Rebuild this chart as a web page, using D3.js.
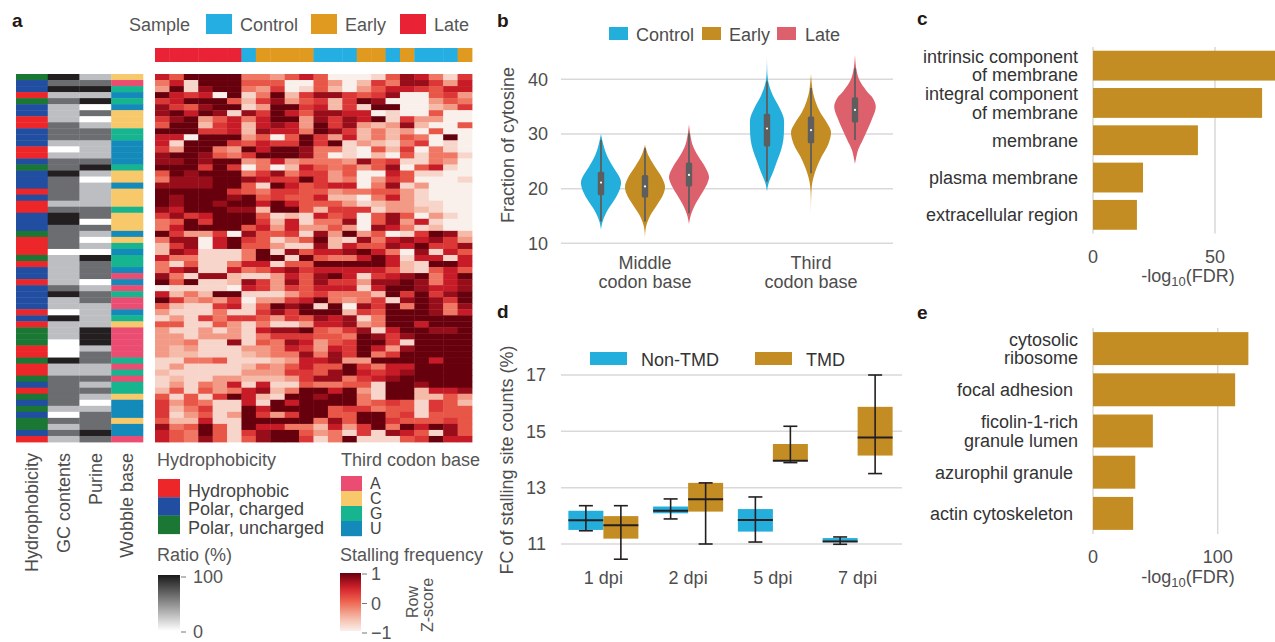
<!DOCTYPE html>
<html>
<head>
<meta charset="utf-8">
<script src="https://cdn.jsdelivr.net/npm/d3@7"></script>
<style>
  body { margin: 0; background: #fff; }
  svg text { font-family: "Liberation Sans", Arial, Helvetica, sans-serif; }
</style>
</head>
<body>
<div id="chart"></div>
<script>
// ---------------- data ----------------
// panel a: sample group of each heatmap column
var sampleGroups = ['Late','Late','Late','Late','Late','Late','Control','Early','Early','Early','Early',
  'Control','Control','Control','Early','Early','Control','Early','Control','Control','Control','Early'];

// row annotations (61 codons): h = hydrophobic, c = polar charged, u = polar uncharged
var hydroCodes   = "ucchucchhc" + "cchhcuccch" + "chhcccuhhh" + "uhcchcccch" + "chuuuhhuhh" + "uchucucuuc" + "h";
// GC contents / purine ratio: 0 = 0%, 1 = 33%, 2 = 67%, 3 = 100%
var gcLevels     = "3231211122" + "2101223222" + "2123322220" + "1111123110" + "3111000311" + "2222210212" + "1";
var purineLevels = "1231302012" + "2111231011" + "1122021010" + "3222012211" + "1133312211" + "2121012223" + "2";
var wobbleBases  = "CAGUGUCCCG" + "GUUUUGCCUC" + "CCGCCCUCGU" + "GGUAUAGAAU" + "GCAAAAAGAG" + "AGGCUUUCUU" + "A";

// stalling frequency, row Z-score, read as levels 0 (-1) .. 9 (+1)
var stallingRows = [
  "7599994435750001587416","4719995550053026488637","3918994360152035776577","9767091492688656800563",
  "6799952683562698000354","8658991399672619900236","8979818697588770100500","6893574799386879163300",
  "5992672787396832382005","9996672877498624230500","7709993505963724254090","7199965766969132146010",
  "6399439799844105260410","8998546999840102051441","8898993473444385611430","9996960402754535805710",
  "5989994684663500751100","4888998766963403650001","8888995197567704813000","9999965466553445531000",
  "9899989565572204731000","9899899797555312331100","8799988299526661332100","6867999512175605850310",
  "4596999627144805837100","4799995737335308741200","9633608556183935016982","4880796513592184787863",
  "2680795531182755879668","2871114918577897408175","7441114991954479717717","4151147715599999721997",
  "4781174578677777521575","8418821137589716789479","9591128638586638898478","0111107636577717998778",
  "7242991113564442969689","9634360336794346189869","5211671598919086949848","3111411686999265999847",
  "1316466536587814999999","5511531411377834997999","3113131788954681799889","3313331466655498689999",
  "3341181548735699619999","3231113347637697389999","3221112344848694699999","1144511123778339999799",
  "1311112435755964779999","2111113336658976789999","1211332223688467899999","1314371711544551998999",
  "2515347824997931992778","5151697219989941992253","6354117197999945651652","6246119799995664551655",
  "6135139636995599561555","5227119999948599655565","8459519774427369497985","7549516899534161875185",
  "7548515899614911156977"
];

// panel b: violin profiles [value, relative half width] and box stats [low, q1, median, q3, high]
var codonPositions = ['Middle', 'Third'];
var sampleNames = ['Control', 'Early', 'Late'];
var violinProfiles = {
  'Middle-Control': [[12.5,0],[14,0.08],[16,0.32],[18,0.68],[20,0.95],[21.2,1],[22,0.94],[24,0.6],[26,0.3],[28,0.12],[30,0]],
  'Middle-Early':   [[11,0],[13,0.05],[15,0.25],[17,0.6],[19,0.92],[20.4,1],[22,0.85],[24,0.5],[26,0.18],[28,0]],
  'Middle-Late':    [[13.5,0],[15,0.08],[17,0.3],[19,0.62],[21,0.92],[22.2,1],[24,0.8],[26,0.45],[28,0.18],[30,0.06],[31.8,0]],
  'Third-Control':  [[19.5,0],[21,0.08],[23,0.3],[25,0.5],[27,0.7],[29,0.82],[31,0.85],[33,0.83],[35,0.6],[37,0.3],[39,0.1],[40.5,0.03],[44,0]],
  'Third-Early':    [[14.5,0],[20,0.03],[22,0.12],[24,0.3],[26,0.55],[28,0.85],[30.4,1],[32,0.8],[34,0.45],[36,0.22],[38,0.08],[41,0]],
  'Third-Late':     [[24.5,0],[27,0.15],[29,0.4],[31,0.65],[33,0.88],[35,1.04],[36.5,0.9],[38,0.55],[40,0.2],[42,0.06],[44.5,0]]
};
var violinBoxes = {
  'Middle-Control': [14, 18.8, 21.1, 23.1, 28.9],
  'Middle-Early':   [14, 18.4, 20.4, 22.5, 27.4],
  'Middle-Late':    [15.5, 20.4, 22.5, 24.8, 30.1],
  'Third-Control':  [21.3, 27.7, 31.0, 33.7, 39.6],
  'Third-Early':    [22.8, 28.3, 30.7, 33.2, 38.4],
  'Third-Late':     [28.9, 32.1, 34.4, 36.7, 42.0]
};

// panel c
var goTermsC = [['intrinsic component', 'of membrane'], ['integral component', 'of membrane'], ['membrane'], ['plasma membrane'], ['extracellular region']];
var fdrC = [76, 69.3, 43, 20.5, 18];

// panel d: [low, q1, median, q3, high]
var dpiLabels = ['1 dpi', '2 dpi', '5 dpi', '7 dpi'];
var nonTmdStats = [[11.47, 11.50, 11.84, 12.18, 12.36], [11.89, 12.09, 12.18, 12.33, 12.60], [11.07, 11.44, 11.85, 12.24, 12.67], [10.99, 11.07, 11.09, 11.21, 11.25]];
var tmdStats    = [[10.46, 11.19, 11.67, 11.99, 12.36], [11.00, 12.15, 12.59, 13.17, 13.17], [13.89, 13.96, 13.96, 14.55, 15.18], [13.50, 14.14, 14.78, 15.87, 17.00]];

// panel e
var goTermsE = [['cytosolic', 'ribosome'], ['focal adhesion '], ['ficolin-1-rich', 'granule lumen'], ['azurophil granule '], ['actin cytoskeleton ']];
var fdrE = [124.6, 114, 48, 33.9, 32.2];

// ---------------- drawing ----------------
var W = 1275, H = 642, FS = 18;
var gridColor = '#d9d9d9', tickText = '#4d4d4d', labelText = '#333';
var svg = d3.select('#chart').append('svg').attr('width', W).attr('height', H);

var sampleColor = {Control: '#25aee2', Early: '#e19a20', Late: '#e92236'};
var violinColor = {Control: '#23aedc', Early: '#c38d24', Late: '#dd616d'};
var hydroColor = {h: '#ec2629', c: '#214ea1', u: '#1a7734'};
var ratioColor = ['#ffffff', '#bdbec2', '#6c6d70', '#231f20'];
var wobbleColor = {A: '#eb4d72', C: '#f8c96a', G: '#17b58f', U: '#138ab9'};
var zColor = d3.scaleLinear().domain([-1, -0.5, 0, 0.5, 1])
  .range(['#faf0eb', '#f4b4a0', '#ee6651', '#d31f2a', '#67000d']).clamp(true);

function panelLabel(t, x, y) {
  svg.append('text').attr('x', x).attr('y', y)
    .attr('font-size', 19).attr('font-weight', 'bold').attr('fill', '#231815').text(t);
}
function txt(g, x, y, s, size, fill, anchor) {
  return g.append('text').attr('x', x).attr('y', y).attr('font-size', size || FS)
    .attr('fill', fill || tickText).attr('text-anchor', anchor || 'start').text(s);
}

// ===== panel a =====
panelLabel('a', 12, 27);
var gA = svg.append('g').attr('id', 'panelA');

txt(gA, 129, 31, 'Sample', FS, '#555');
[['Control', 206, 240], ['Early', 311, 345], ['Late', 400, 434]].forEach(function(d) {
  gA.append('rect').attr('x', d[1]).attr('y', 14).attr('width', 26).attr('height', 20).attr('fill', sampleColor[d[0]]);
  txt(gA, d[2], 31, d[0], FS, '#555');
});

var hmX = d3.scaleBand().domain(d3.range(22)).range([155, 472]);
var hmY = d3.scaleBand().domain(d3.range(61)).range([74, 442]);

gA.append('g').selectAll('rect').data(sampleGroups).enter().append('rect')
  .attr('x', function(d, i) { return hmX(i); })
  .attr('y', 48).attr('width', hmX.bandwidth() + 0.4).attr('height', 14)
  .attr('fill', function(d) { return sampleColor[d]; });

var cells = [];
stallingRows.forEach(function(row, i) {
  row.split('').forEach(function(ch, j) { cells.push({r: i, c: j, z: +ch / 4.5 - 1}); });
});
gA.append('g').selectAll('rect').data(cells).enter().append('rect')
  .attr('x', function(d) { return hmX(d.c); })
  .attr('y', function(d) { return hmY(d.r); })
  .attr('width', hmX.bandwidth() + 0.4).attr('height', hmY.bandwidth() + 0.4)
  .attr('fill', function(d) { return zColor(d.z); });

// row annotation columns
var annKeys = ['Hydrophobicity', 'GC contents', 'Purine', 'Wobble base'];
var annX = d3.scaleBand().domain(annKeys).range([16, 143]);
var annFill = {
  'Hydrophobicity': function(i) { return hydroColor[hydroCodes[i]]; },
  'GC contents': function(i) { return ratioColor[+gcLevels[i]]; },
  'Purine': function(i) { return ratioColor[+purineLevels[i]]; },
  'Wobble base': function(i) { return wobbleColor[wobbleBases[i]]; }
};
annKeys.forEach(function(k) {
  gA.append('g').selectAll('rect').data(d3.range(61)).enter().append('rect')
    .attr('x', annX(k)).attr('y', function(i) { return hmY(i); })
    .attr('width', annX.bandwidth() + 0.3).attr('height', hmY.bandwidth() + 0.4)
    .attr('fill', annFill[k]);
  gA.append('text')
    .attr('transform', 'translate(' + (annX(k) + annX.bandwidth() / 2) + ',453) rotate(-90)')
    .attr('text-anchor', 'end').attr('dy', '0.35em')
    .attr('font-size', FS).attr('fill', tickText).text(k);
});

// legends
txt(gA, 157, 466, 'Hydrophobicity', FS, '#555');
[['h', 'Hydrophobic'], ['c', 'Polar, charged'], ['u', 'Polar, uncharged']].forEach(function(d, i) {
  gA.append('rect').attr('x', 158).attr('y', 479 + i * 18.3).attr('width', 22).attr('height', 18.5).attr('fill', hydroColor[d[0]]);
  txt(gA, 188, 496.5 + i * 18.5, d[1], FS, '#444');
});
txt(gA, 341, 466, 'Third codon base', FS, '#555');
['A', 'C', 'G', 'U'].forEach(function(b, i) {
  gA.append('rect').attr('x', 341).attr('y', 476 + i * 15).attr('width', 21).attr('height', 15.2).attr('fill', wobbleColor[b]);
  txt(gA, 370, 489 + i * 15, b, 16, '#444');
});

var defs = svg.append('defs');
var gRatio = defs.append('linearGradient').attr('id', 'gradRatio')
  .attr('x1', 0).attr('x2', 0).attr('y1', 1).attr('y2', 0);
gRatio.append('stop').attr('offset', '0%').attr('stop-color', '#ffffff');
gRatio.append('stop').attr('offset', '100%').attr('stop-color', '#1a1a1a');
var gZ = defs.append('linearGradient').attr('id', 'gradZ')
  .attr('x1', 0).attr('x2', 0).attr('y1', 1).attr('y2', 0);
d3.range(0, 101, 10).forEach(function(p) {
  gZ.append('stop').attr('offset', p + '%').attr('stop-color', zColor(-1 + p / 50));
});

txt(gA, 157, 561, 'Ratio (%)', FS, '#555');
gA.append('rect').attr('x', 158).attr('y', 575).attr('width', 22).attr('height', 56).attr('fill', 'url(#gradRatio)');
var ratioScale = d3.scaleLinear().domain([0, 100]).range([632, 577]);
[0, 100].forEach(function(v) {
  gA.append('line').attr('x1', 181).attr('x2', 186).attr('y1', ratioScale(v)).attr('y2', ratioScale(v)).attr('stroke', '#777');
  txt(gA, 193, ratioScale(v), v, FS, '#555').attr('dy', '0.35em');
});

txt(gA, 340, 561, 'Stalling frequency', FS, '#555');
gA.append('rect').attr('x', 340).attr('y', 573).attr('width', 21).attr('height', 58).attr('fill', 'url(#gradZ)');
var zLegScale = d3.scaleLinear().domain([-1, 1]).range([633, 574]);
[-1, 0, 1].forEach(function(v) {
  gA.append('line').attr('x1', 362).attr('x2', 367).attr('y1', zLegScale(v)).attr('y2', zLegScale(v)).attr('stroke', '#777');
  txt(gA, 371, zLegScale(v), v < 0 ? '\u22121' : v, FS, '#555').attr('dy', '0.35em');
});
gA.append('text').attr('transform', 'translate(412,602) rotate(-90)').attr('text-anchor', 'middle')
  .attr('dy', '0.35em').attr('font-size', 16).attr('fill', '#555').text('Row');
gA.append('text').attr('transform', 'translate(427,605) rotate(-90)').attr('text-anchor', 'middle')
  .attr('dy', '0.35em').attr('font-size', 16).attr('fill', '#555').text('Z-score');

// ===== panel b =====
panelLabel('b', 497, 27);
var gB = svg.append('g').attr('id', 'panelB');
var yB = d3.scaleLinear().domain([10, 40]).range([243.3, 79.3]);
var xB = d3.scaleBand().domain(codonPositions).range([562, 894]);
var offB = d3.scaleBand().domain(sampleNames).range([-66, 66]);

[10, 20, 30, 40].forEach(function(v) {
  gB.append('line').attr('x1', 561).attr('x2', 893).attr('y1', yB(v)).attr('y2', yB(v))
    .attr('stroke', gridColor).attr('stroke-width', 1.5);
  txt(gB, 548, yB(v), v, FS, tickText, 'end').attr('dy', '0.35em');
});
gB.append('text').attr('transform', 'translate(508,145) rotate(-90)').attr('text-anchor', 'middle')
  .attr('dy', '0.35em').attr('font-size', FS).attr('fill', tickText).text('Fraction of cytosine');

[['Middle', 'codon base'], ['Third', 'codon base']].forEach(function(lines, i) {
  var cx = xB(codonPositions[i]) + xB.bandwidth() / 2;
  lines.forEach(function(l, k) { txt(gB, cx, 269 + k * 19, l, FS, tickText, 'middle'); });
});

[['Control', 609, 636], ['Early', 702, 729], ['Late', 777, 805]].forEach(function(d) {
  gB.append('rect').attr('x', d[1]).attr('y', 27).attr('width', 19).attr('height', 13).attr('fill', violinColor[d[0]]);
  txt(gB, d[2], 40.5, d[0], FS, tickText);
});

codonPositions.forEach(function(pos) {
  sampleNames.forEach(function(s) {
    var key = pos + '-' + s;
    var cx = xB(pos) + xB.bandwidth() / 2 + offB(s) + offB.bandwidth() / 2;
    var area = d3.area().curve(d3.curveCatmullRom)
      .y(function(d) { return yB(d[0]); })
      .x0(function(d) { return cx - d[1] * 20; })
      .x1(function(d) { return cx + d[1] * 20; });
    gB.append('path').datum(violinProfiles[key]).attr('d', area).attr('fill', violinColor[s]);
    var b = violinBoxes[key];
    gB.append('line').attr('x1', cx).attr('x2', cx).attr('y1', yB(b[0])).attr('y2', yB(b[4]))
      .attr('stroke', '#5e5e5e').attr('stroke-width', 1.8);
    gB.append('rect').attr('x', cx - 3.2).attr('y', yB(b[3])).attr('width', 6.4)
      .attr('height', yB(b[1]) - yB(b[3])).attr('rx', 1.5).attr('fill', '#5e5e5e');
    gB.append('circle').attr('cx', cx).attr('cy', yB(b[2])).attr('r', 1.1).attr('fill', '#fff');
  });
});

// ===== horizontal bar panels c and e =====
function barPanel(id, terms, vals, xTickVals, xRange, yRange) {
  var g = svg.append('g').attr('id', id);
  var x = d3.scaleLinear().domain([0, xTickVals[1]]).range(xRange);
  var y = d3.scaleBand().domain(d3.range(terms.length)).range(yRange).paddingInner(0.2).paddingOuter(0.1);
  xTickVals.forEach(function(v) {
    g.append('line').attr('x1', x(v)).attr('x2', x(v)).attr('y1', yRange[0]).attr('y2', yRange[1])
      .attr('stroke', gridColor).attr('stroke-width', 1.5);
  });
  g.selectAll('rect.bar').data(vals).enter().append('rect').attr('class', 'bar')
    .attr('x', x(0)).attr('y', function(d, i) { return y(i); })
    .attr('width', function(d) { return x(d) - x(0); }).attr('height', y.bandwidth())
    .attr('fill', '#c38d24');
  terms.forEach(function(lines, i) {
    var cy = y(i) + y.bandwidth() / 2;
    lines.forEach(function(l, k) {
      txt(g, 1078, cy + 6.5 + (k - (lines.length - 1) / 2) * 18.5, l, FS, labelText, 'end')
        .style('white-space', 'pre');
    });
  });
  var base = yRange[1] + 29;
  xTickVals.forEach(function(v) { txt(g, x(v), base, v, FS, tickText, 'middle'); });
  var lab = txt(g, 1188, base + 19.5, '-log', FS, tickText, 'middle');
  lab.append('tspan').attr('dy', 4).attr('font-size', 13).text('10');
  lab.append('tspan').attr('dy', -4).text('(FDR)');
  return g;
}
panelLabel('c', 917, 25);
barPanel('panelC', goTermsC, fdrC, [0, 50], [1093, 1215], [47, 233.5]);
panelLabel('e', 917, 319);
barPanel('panelE', goTermsE, fdrE, [0, 100], [1093, 1217.7], [328, 534]);

// ===== panel d =====
panelLabel('d', 497, 318);
var gD = svg.append('g').attr('id', 'panelD');
var yD = d3.scaleLinear().domain([11, 17]).range([544, 375]);
var xD = d3.scaleBand().domain(dpiLabels).range([561, 900]);
var offD = d3.scaleBand().domain(['Non-TMD', 'TMD']).range([-35, 35]);
var boxColor = {'Non-TMD': '#23aedc', 'TMD': '#c38d24'};

[11, 13, 15, 17].forEach(function(v) {
  gD.append('line').attr('x1', 561).attr('x2', 902).attr('y1', yD(v)).attr('y2', yD(v))
    .attr('stroke', gridColor).attr('stroke-width', 1.5);
  txt(gD, 546, yD(v), v, FS, tickText, 'end').attr('dy', '0.35em');
});
gD.append('text').attr('transform', 'translate(507,460) rotate(-90)').attr('text-anchor', 'middle')
  .attr('dy', '0.35em').attr('font-size', FS).attr('fill', tickText).text('FC of stalling site counts (%)');
dpiLabels.forEach(function(l) { txt(gD, xD(l) + xD.bandwidth() / 2, 584, l, FS, tickText, 'middle'); });

[['Non-TMD', 590, 641], ['TMD', 755, 806]].forEach(function(d) {
  gD.append('rect').attr('x', d[1]).attr('y', 352).attr('width', 37).attr('height', 13).attr('fill', boxColor[d[0]]);
  txt(gD, d[2], 366, d[0], FS, '#333');
});

[['Non-TMD', nonTmdStats], ['TMD', tmdStats]].forEach(function(grp) {
  grp[1].forEach(function(b, i) {
    var x0 = xD(dpiLabels[i]) + xD.bandwidth() / 2 + offD(grp[0]);
    var w = offD.bandwidth(), cx = x0 + w / 2;
    var wk = gD.append('g').attr('stroke', '#231f20').attr('stroke-width', 1.6);
    wk.append('line').attr('x1', cx).attr('x2', cx).attr('y1', yD(b[4])).attr('y2', yD(b[0]));
    gD.append('rect').attr('x', x0).attr('y', yD(b[3])).attr('width', w)
      .attr('height', Math.max(1, yD(b[1]) - yD(b[3]))).attr('fill', boxColor[grp[0]]);
    wk.raise();
    wk.append('line').attr('x1', cx - 7).attr('x2', cx + 7).attr('y1', yD(b[4])).attr('y2', yD(b[4]));
    wk.append('line').attr('x1', cx - 7).attr('x2', cx + 7).attr('y1', yD(b[0])).attr('y2', yD(b[0]));
    wk.append('line').attr('x1', x0).attr('x2', x0 + w).attr('y1', yD(b[2])).attr('y2', yD(b[2])).attr('stroke-width', 2);
  });
});
</script>
</body>
</html>
